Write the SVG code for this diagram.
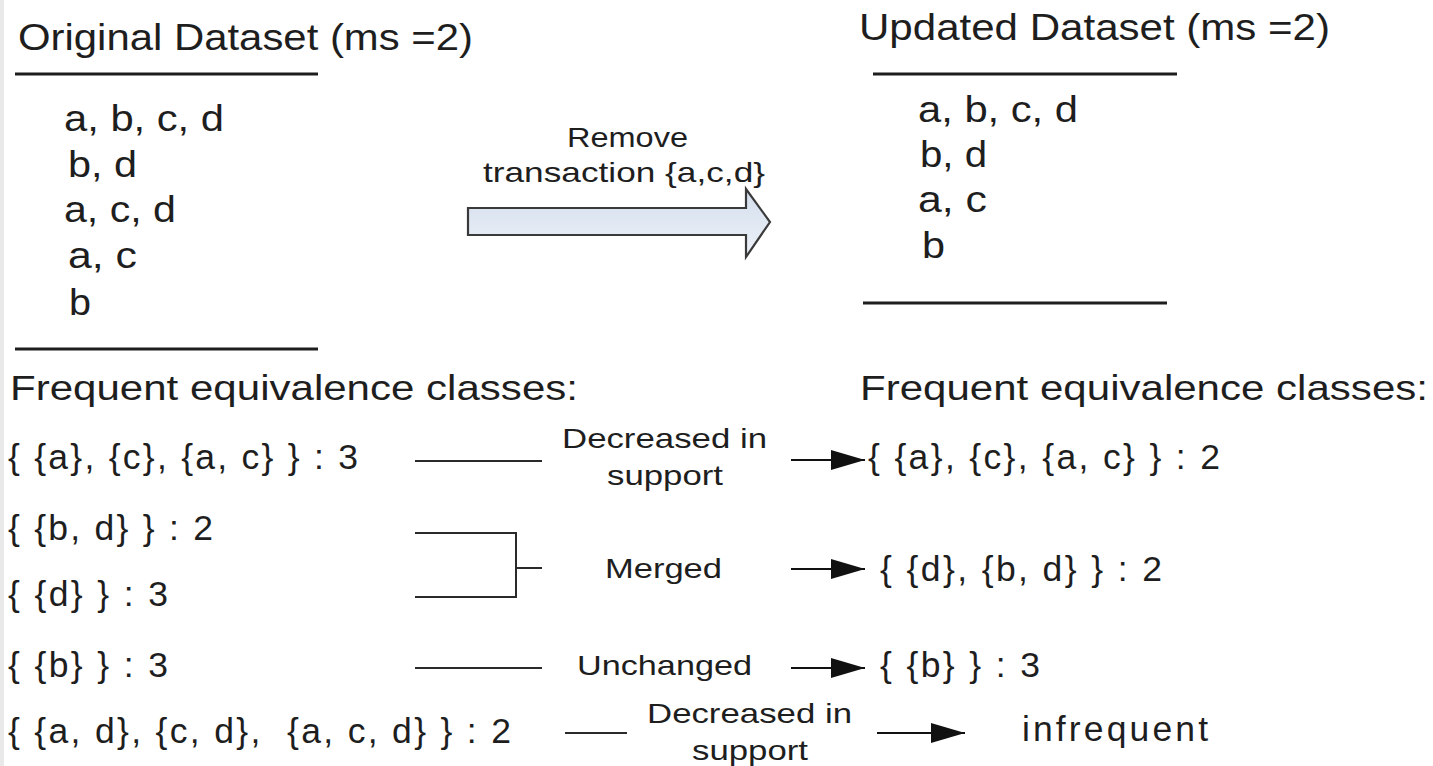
<svg xmlns="http://www.w3.org/2000/svg" width="1433" height="766" viewBox="0 0 1433 766">
  <style>
    text { font-family: "Liberation Sans", Arial, sans-serif; fill: #1e1e1e; }
    .head { font-size: 37px; }
    .tx { font-size: 36px; }
    .freq { font-size: 35px; }
    .set { font-size: 35.5px; }
    .lbl { font-size: 28px; }
    .rule { stroke: #1e1e1e; stroke-width: 3; fill: none; }
    .conn { stroke: #2a2a2a; stroke-width: 2; fill: none; }
    .arw { stroke: #111; stroke-width: 2.2; fill: none; marker-end: url(#tip); }
  </style>
  <defs>
    <marker id="tip" markerUnits="userSpaceOnUse" markerWidth="36" markerHeight="22" refX="34" refY="10" orient="auto">
      <path d="M0,0 L34,10 L0,20 Z" fill="#111"/>
    </marker>
    <linearGradient id="blockFill" x1="0" y1="0" x2="0" y2="1">
      <stop offset="0" stop-color="#d3deed"/>
      <stop offset="1" stop-color="#eef2f8"/>
    </linearGradient>
  </defs>

  <rect x="0" y="0" width="1433" height="766" fill="#ffffff"/>
  <rect x="0" y="0" width="4" height="766" fill="#e9e9e9"/>

  <!-- original dataset -->
  <g id="original-dataset">
    <text class="head" x="18" y="50" textLength="455" lengthAdjust="spacingAndGlyphs">Original Dataset (ms =2)</text>
    <line class="rule" x1="15" y1="74" x2="318" y2="74"/>
    <text class="tx" x="64" y="131" textLength="160" lengthAdjust="spacingAndGlyphs">a, b, c, d</text>
    <text class="tx" x="68" y="177" textLength="69" lengthAdjust="spacingAndGlyphs">b, d</text>
    <text class="tx" x="64" y="222" textLength="112" lengthAdjust="spacingAndGlyphs">a, c, d</text>
    <text class="tx" x="68" y="268" textLength="69" lengthAdjust="spacingAndGlyphs">a, c</text>
    <text class="tx" x="69" y="315" textLength="22" lengthAdjust="spacingAndGlyphs">b</text>
    <line class="rule" x1="15" y1="349" x2="318" y2="349"/>
  </g>

  <!-- removal step -->
  <g id="remove-step">
    <path d="M468,208 H746 V189 L770,222 L746,257 V235 H468 Z" fill="url(#blockFill)" stroke="#3a3a3a" stroke-width="2.2" stroke-linejoin="miter"/>
    <text class="lbl" x="567" y="147" textLength="121" lengthAdjust="spacingAndGlyphs">Remove</text>
    <text class="lbl" x="483" y="182" textLength="282" lengthAdjust="spacingAndGlyphs">transaction {a,c,d}</text>
  </g>

  <!-- updated dataset -->
  <g id="updated-dataset">
    <text class="head" x="859" y="40" textLength="471" lengthAdjust="spacingAndGlyphs">Updated Dataset (ms =2)</text>
    <line class="rule" x1="873" y1="74" x2="1177" y2="74"/>
    <text class="tx" x="918" y="122" textLength="160" lengthAdjust="spacingAndGlyphs">a, b, c, d</text>
    <text class="tx" x="920" y="167" textLength="67" lengthAdjust="spacingAndGlyphs">b, d</text>
    <text class="tx" x="918" y="212" textLength="69" lengthAdjust="spacingAndGlyphs">a, c</text>
    <text class="tx" x="922" y="258" textLength="23" lengthAdjust="spacingAndGlyphs">b</text>
    <line class="rule" x1="863" y1="303" x2="1167" y2="303"/>
  </g>

  <!-- classes before the update -->
  <g id="classes-before">
    <text class="freq" x="10" y="400" textLength="568" lengthAdjust="spacingAndGlyphs">Frequent equivalence classes:</text>
    <text class="set" x="8" y="469" textLength="350" lengthAdjust="spacing">{ {a}, {c}, {a, c} } : 3</text>
    <text class="set" x="8" y="540" textLength="205" lengthAdjust="spacing">{ {b, d} } : 2</text>
    <text class="set" x="8" y="606" textLength="160" lengthAdjust="spacing">{ {d} } : 3</text>
    <text class="set" x="8" y="677" textLength="160" lengthAdjust="spacing">{ {b} } : 3</text>
    <text class="set" x="8" y="743" textLength="503" lengthAdjust="spacing" xml:space="preserve">{ {a, d}, {c, d},  {a, c, d} } : 2</text>
  </g>

  <!-- classes after the update -->
  <g id="classes-after">
    <text class="freq" x="860" y="400" textLength="568" lengthAdjust="spacingAndGlyphs">Frequent equivalence classes:</text>
    <text class="set" x="868" y="469" textLength="352" lengthAdjust="spacing">{ {a}, {c}, {a, c} } : 2</text>
    <text class="set" x="880" y="581" textLength="282" lengthAdjust="spacing">{ {d}, {b, d} } : 2</text>
    <text class="set" x="880" y="677" textLength="160" lengthAdjust="spacing">{ {b} } : 3</text>
    <text class="set" x="1022" y="741" textLength="186" lengthAdjust="spacing">infrequent</text>
  </g>

  <!-- change labels -->
  <g id="change-labels">
    <text class="lbl" x="562" y="448" textLength="205" lengthAdjust="spacingAndGlyphs">Decreased in</text>
    <text class="lbl" x="607" y="485" textLength="116" lengthAdjust="spacingAndGlyphs">support</text>
    <text class="lbl" x="605" y="578" textLength="117" lengthAdjust="spacingAndGlyphs">Merged</text>
    <text class="lbl" x="577" y="675" textLength="175" lengthAdjust="spacingAndGlyphs">Unchanged</text>
    <text class="lbl" x="647" y="723" textLength="205" lengthAdjust="spacingAndGlyphs">Decreased in</text>
    <text class="lbl" x="692" y="760" textLength="116" lengthAdjust="spacingAndGlyphs">support</text>
  </g>

  <!-- connectors -->
  <g id="connectors">
    <line class="conn" x1="415" y1="461" x2="542" y2="461"/>
    <line class="arw" x1="791" y1="460" x2="865" y2="460"/>

    <path class="conn" d="M415,533 H516 V597 H415"/>
    <line class="conn" x1="516" y1="568" x2="542" y2="568"/>
    <line class="arw" x1="791" y1="569" x2="865" y2="569"/>

    <line class="conn" x1="415" y1="668" x2="542" y2="668"/>
    <line class="arw" x1="791" y1="668" x2="865" y2="668"/>

    <line class="conn" x1="565" y1="733" x2="627" y2="733"/>
    <line class="arw" x1="877" y1="733" x2="965" y2="733"/>
  </g>
</svg>
